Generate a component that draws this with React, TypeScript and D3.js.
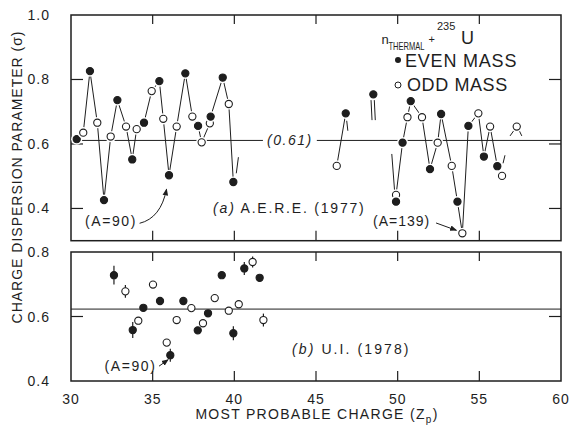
import React from 'react';
import * as d3 from 'd3';

// [Zp, sigma, even(1)/odd(0)]
const aereRunA: [number, number, number][] = [
  [30.35, 0.615, 1], [30.75, 0.635, 0], [31.16, 0.826, 1], [31.61, 0.666, 0],
  [32.02, 0.426, 1], [32.43, 0.623, 0], [32.84, 0.736, 1], [33.37, 0.654, 0],
  [33.75, 0.552, 1], [34.02, 0.646, 0], [34.47, 0.666, 1], [34.94, 0.764, 0],
  [35.41, 0.795, 1], [35.65, 0.678, 0], [36.0, 0.503, 1], [36.47, 0.654, 0],
  [37.0, 0.819, 1], [37.43, 0.685, 0], [37.78, 0.656, 1], [38.0, 0.605, 0],
  [38.5, 0.664, 0], [38.55, 0.685, 1], [39.29, 0.806, 1], [39.66, 0.724, 0],
  [39.94, 0.482, 1],
];
const aereRunB: [number, number, number][] = [[46.27, 0.532, 0], [46.82, 0.695, 1]];
const aereRunC: [number, number, number][] = [
  [49.9, 0.442, 0], [50.3, 0.604, 1], [50.6, 0.683, 0], [50.8, 0.733, 1],
  [51.49, 0.683, 0], [51.98, 0.522, 1], [52.45, 0.604, 0], [52.66, 0.693, 1],
  [53.31, 0.532, 0], [53.66, 0.421, 1], [53.96, 0.323, 0], [54.33, 0.656, 1],
  [54.94, 0.695, 0], [55.28, 0.561, 1], [55.66, 0.654, 0], [56.1, 0.531, 1],
  [56.39, 0.501, 0],
];
const aereLone: [number, number, number][] = [[48.51, 0.754, 1], [49.9, 0.421, 1], [57.29, 0.654, 0]];
// short broken line pieces [z1, s1, z2, s2]
const aereStubs: [number, number, number, number][] = [
  [40.25, 0.559, 40.12, 0.509], [46.88, 0.672, 46.95, 0.641],
  [48.37, 0.736, 48.43, 0.674], [48.57, 0.736, 48.63, 0.674],
  [49.64, 0.569, 49.82, 0.449], [56.45, 0.54, 56.57, 0.565],
  [56.88, 0.625, 57.19, 0.647], [57.39, 0.647, 57.6, 0.625],
];
// [Zp, sigma, even/odd, error]
const uiPoints: [number, number, number, number][] = [
  [32.63, 0.728, 1, 0.029], [33.33, 0.678, 0, 0.02], [33.78, 0.558, 1, 0.025],
  [34.12, 0.587, 0, 0], [34.43, 0.627, 1, 0], [35.02, 0.699, 0, 0],
  [35.45, 0.648, 1, 0], [35.86, 0.519, 0, 0], [36.08, 0.48, 1, 0.02],
  [36.47, 0.589, 0, 0], [36.88, 0.648, 1, 0], [37.37, 0.626, 0, 0],
  [37.76, 0.557, 1, 0], [38.08, 0.579, 0, 0], [38.39, 0.61, 1, 0],
  [38.8, 0.657, 0, 0], [39.23, 0.728, 1, 0], [39.66, 0.618, 0, 0],
  [39.94, 0.548, 1, 0.022], [40.27, 0.638, 0, 0], [40.61, 0.749, 1, 0.02],
  [41.12, 0.769, 0, 0.017], [41.55, 0.72, 1, 0], [41.78, 0.589, 0, 0.02],
];
const aereMean = 0.611;
const uiMean = 0.623;
const xTicks = [30, 35, 40, 45, 50, 55, 60];
const topTicks = [0.4, 0.6, 0.8, 1.0];
const botTicks = [0.4, 0.6, 0.8];

const ink = '#1e1e1e';
const font = 'Liberation Sans, Arial, sans-serif';

export default function App() {
  const x = d3.scaleLinear().domain([30, 60]).range([71, 561]);
  const yT = d3.scaleLinear().domain([0.3, 1.0]).range([240.7, 15]);
  const yB = d3.scaleLinear().domain([0.4, 0.8]).range([381, 252]);

  const lineT = d3.line<[number, number, number]>().x(d => x(d[0])).y(d => yT(d[1]));

  const marker = (cx: number, cy: number, even: number, key: string, halo = true) => (
    <g key={key}>
      {halo && <circle cx={cx} cy={cy} r={5.6} fill="white" />}
      <circle cx={cx} cy={cy} r={3.6} fill={even ? ink : 'white'} stroke={ink} strokeWidth={1.1} />
    </g>
  );

  const frame = (y0: number, y1: number, yTicksIn: number[], ys: d3.ScaleLinear<number, number>) => (
    <g>
      <rect x={71} y={y0} width={490} height={y1 - y0} fill="none" stroke={ink} strokeWidth={1.5} />
      {xTicks.slice(1, -1).map(t => (
        <g key={t}>
          <line x1={x(t)} x2={x(t)} y1={y0} y2={y0 + 9} stroke={ink} strokeWidth={1.2} />
          <line x1={x(t)} x2={x(t)} y1={y1} y2={y1 - 10} stroke={ink} strokeWidth={1.2} />
        </g>
      ))}
      {yTicksIn.map(t => (
        <g key={t}>
          <line x1={71} x2={83} y1={ys(t)} y2={ys(t)} stroke={ink} strokeWidth={1.2} />
          <line x1={561} x2={549} y1={ys(t)} y2={ys(t)} stroke={ink} strokeWidth={1.2} />
        </g>
      ))}
    </g>
  );

  const lblStyle = { fontFamily: font, fontSize: 14, fill: ink, letterSpacing: 1 } as React.CSSProperties;

  return (
    <svg width={573} height={430} style={{ position: 'absolute', left: 0, top: 0, background: 'white' }}>
      <defs>
        <marker id="ah" viewBox="0 0 10 10" refX="9" refY="5" markerWidth="7" markerHeight="7" orient="auto">
          <path d="M0,1 L10,5 L0,9 z" fill={ink} />
        </marker>
      </defs>

      {/* top panel */}
      <line x1={71} x2={561} y1={yT(aereMean)} y2={yT(aereMean)} stroke={ink} strokeWidth={1} />
      <rect x={x(41.75)} y={yT(aereMean) - 9} width={x(45.05) - x(41.75)} height={18} fill="white" />
      <text x={x(43.4)} y={yT(aereMean) + 5} textAnchor="middle" style={{ ...lblStyle, fontStyle: 'italic', letterSpacing: 1.5 }}>(0.61)</text>
      {frame(15, 240.7, [0.4, 0.6, 0.8], yT)}
      {[aereRunA, aereRunB, aereRunC].map((run, i) => (
        <path key={i} d={lineT(run) || ''} fill="none" stroke={ink} strokeWidth={1} />
      ))}
      {aereStubs.map((s, i) => (
        <line key={i} x1={x(s[0])} y1={yT(s[1])} x2={x(s[2])} y2={yT(s[3])} stroke={ink} strokeWidth={1} />
      ))}
      {[...aereRunA, ...aereRunB, ...aereRunC, ...aereLone].map((d, i) => marker(x(d[0]), yT(d[1]), d[2], 't' + i))}

      <text x={x(32.45)} y={yT(0.361) + 5} textAnchor="middle" style={{ ...lblStyle, letterSpacing: 1.6 }}>(A=90)</text>
      <path d={`M${x(34.2)},${yT(0.354)} Q${x(35.5)},${yT(0.37)} ${x(35.85)},${yT(0.46)}`} fill="none" stroke={ink} strokeWidth={1} markerEnd="url(#ah)" />
      <text x={x(50.24)} y={yT(0.361) + 5} textAnchor="middle" style={lblStyle}>(A=139)</text>
      <line x1={x(52.35)} y1={yT(0.355)} x2={x(53.6)} y2={yT(0.332)} stroke={ink} strokeWidth={1} markerEnd="url(#ah)" />
      <text x={x(38.7)} y={yT(0.4) + 5} style={{ ...lblStyle, letterSpacing: 1.8 }}>
        <tspan fontStyle="italic">(a)</tspan> A.E.R.E. (1977)
      </text>

      {/* legend */}
      <text x={381.5} y={43.5} style={{ fontFamily: font, fontSize: 13, fill: ink }}>n</text>
      <text transform="translate(388.5,49.5) scale(0.72,1)" style={{ fontFamily: font, fontSize: 10.5, fill: ink }}>THERMAL</text>
      <text x={428.5} y={43} style={{ fontFamily: font, fontSize: 11, fill: ink }}>+</text>
      <text x={437} y={29.5} style={{ fontFamily: font, fontSize: 11, fill: ink }}>235</text>
      <text x={461} y={43.5} style={{ fontFamily: font, fontSize: 18, fill: ink }}>U</text>
      <circle cx={398} cy={60} r={3} fill={ink} />
      <text x={405} y={67} style={{ fontFamily: font, fontSize: 18, fill: ink, letterSpacing: 0.8 }}>EVEN MASS</text>
      <circle cx={398} cy={85} r={3} fill="white" stroke={ink} strokeWidth={1} />
      <text x={407} y={91} style={{ fontFamily: font, fontSize: 18, fill: ink, letterSpacing: 0.6 }}>ODD MASS</text>

      {/* bottom panel */}
      <line x1={71} x2={561} y1={yB(uiMean)} y2={yB(uiMean)} stroke={ink} strokeWidth={1} />
      {frame(252, 381, [0.6], yB)}
      {uiPoints.filter(d => d[3] > 0).map((d, i) => (
        <line key={i} x1={x(d[0])} x2={x(d[0])} y1={yB(d[1] - d[3])} y2={yB(d[1] + d[3])} stroke={ink} strokeWidth={1.2} />
      ))}
      {uiPoints.map((d, i) => marker(x(d[0]), yB(d[1]), d[2], 'b' + i, false))}
      <text x={x(33.64)} y={yB(0.447) + 5} textAnchor="middle" style={{ ...lblStyle, letterSpacing: 1.6 }}>(A=90)</text>
      <line x1={x(35.39)} y1={yB(0.446)} x2={x(35.95)} y2={yB(0.466)} stroke={ink} strokeWidth={1} markerEnd="url(#ah)" />
      <text x={x(43.53)} y={yB(0.5) + 5} style={{ ...lblStyle, letterSpacing: 2.1 }}>
        <tspan fontStyle="italic">(b)</tspan> U.I. (1978)
      </text>

      {/* axis labels */}
      {topTicks.map(t => (
        <text key={'yt' + t} x={50} y={yT(t) + 5} textAnchor="end" style={lblStyle}>{t.toFixed(1)}</text>
      ))}
      {botTicks.map(t => (
        <text key={'yb' + t} x={50} y={yB(t) + 5} textAnchor="end" style={lblStyle}>{t.toFixed(1)}</text>
      ))}
      {xTicks.map(t => (
        <text key={'x' + t} x={x(t)} y={404} textAnchor="middle" style={lblStyle}>{t}</text>
      ))}
      <text x={317} y={419} textAnchor="middle" style={{ ...lblStyle, letterSpacing: 1.3 }}>
        MOST PROBABLE CHARGE (Z<tspan fontSize={10} dy={4}>p</tspan><tspan dy={-4}>)</tspan>
      </text>
      <text transform="translate(22,177) rotate(-90)" textAnchor="middle" style={lblStyle}>
        CHARGE DISPERSION PARAMETER (σ)
      </text>
    </svg>
  );
}
